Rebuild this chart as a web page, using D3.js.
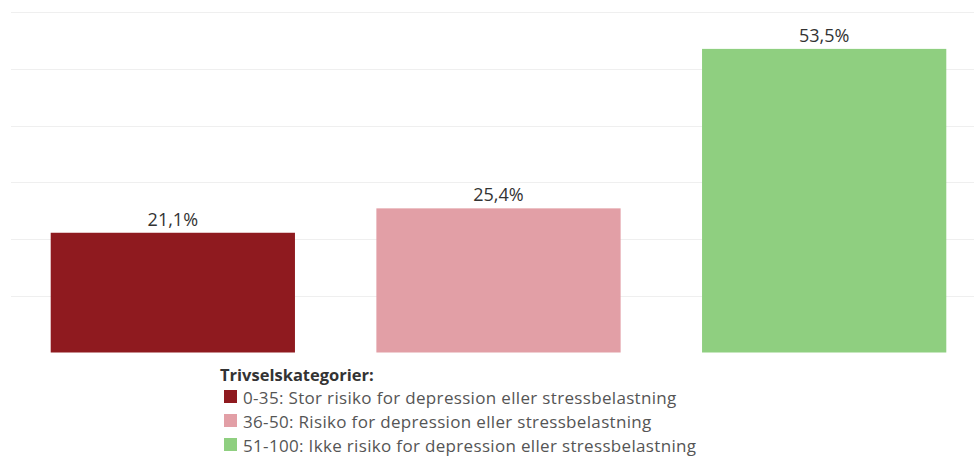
<!DOCTYPE html>
<html>
<head>
<meta charset="utf-8">
<script src="https://cdn.jsdelivr.net/npm/d3@7"></script>
<style>
  body { margin: 0; background: #fff; }
  svg { font-family: "Open Sans", "Noto Sans", sans-serif; }
</style>
</head>
<body>
<svg id="canvas" width="974" height="457"></svg>
<script>
// values
const categories = ["0-35", "36-50", "51-100"];
const shares = [21.1, 25.4, 53.5];
const legendLabels = [
  "0-35: Stor risiko for depression eller stressbelastning",
  "36-50: Risiko for depression eller stressbelastning",
  "51-100: Ikke risiko for depression eller stressbelastning"
];
const colors = ["#8f1a1f", "#e29fa6", "#8fcf80"];
const gridTicks = [10, 20, 30, 40, 50, 60];

const svg = d3.select("#canvas");

const x = d3.scaleBand()
  .domain(categories)
  .range([10, 987])
  .paddingInner(0.25)
  .paddingOuter(0.125);

const y = d3.scaleLinear()
  .domain([0, 60])
  .range([352.5, 12]);

const fmt = v => d3.format(".1f")(v).replace(".", ",") + "%";

// light horizontal gridlines
svg.append("g").selectAll("line")
  .data(gridTicks)
  .enter().append("line")
  .attr("x1", 11)
  .attr("x2", 974)
  .attr("y1", d => Math.round(y(d)) + 0.5)
  .attr("y2", d => Math.round(y(d)) + 0.5)
  .attr("stroke", "#efefef")
  .attr("stroke-width", 1);

const bars = svg.append("g");

bars.selectAll("rect")
  .data(shares)
  .enter().append("rect")
  .attr("x", (d, i) => x(categories[i]))
  .attr("width", x.bandwidth())
  .attr("y", d => y(d))
  .attr("height", d => y(0) - y(d))
  .attr("fill", (d, i) => colors[i]);

bars.selectAll("text")
  .data(shares)
  .enter().append("text")
  .attr("x", (d, i) => x(categories[i]) + x.bandwidth() / 2)
  .attr("y", d => y(d) - 7)
  .attr("text-anchor", "middle")
  .attr("font-size", 18)
  .attr("fill", "#333")
  .text(fmt);

// legend
const legend = svg.append("g").attr("transform", "translate(220,0)");

legend.append("text")
  .attr("x", 0)
  .attr("y", 380.5)
  .attr("font-size", 16.5)
  .attr("font-weight", "bold")
  .attr("fill", "#333")
  .text("Trivselskategorier:");

const rows = legend.selectAll("g.row")
  .data(legendLabels)
  .enter().append("g")
  .attr("class", "row")
  .attr("transform", (d, i) => "translate(0," + (397 + i * 24) + ")");

rows.append("rect")
  .attr("x", 4)
  .attr("y", -7)
  .attr("width", 13)
  .attr("height", 13)
  .attr("fill", (d, i) => colors[i]);

rows.append("text")
  .attr("x", 23)
  .attr("y", 7)
  .attr("font-size", 17)
  .attr("letter-spacing", 0.33)
  .attr("fill", "#555")
  .text(d => d);
</script>
</body>
</html>
